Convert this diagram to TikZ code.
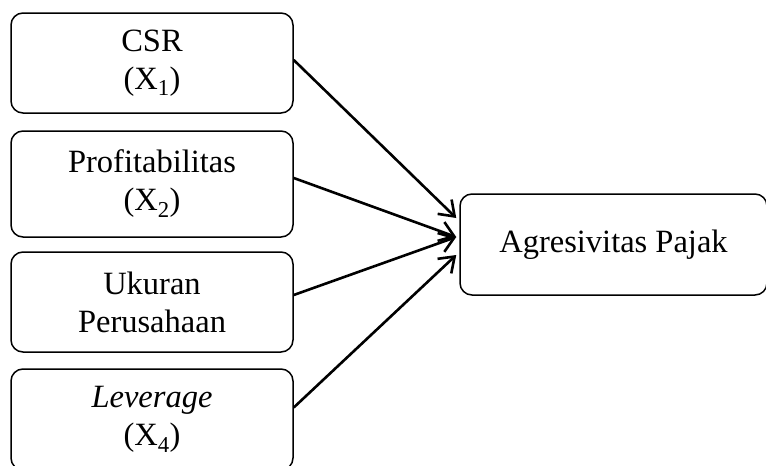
\documentclass[tikz,border=0pt]{standalone}
\usepackage{fontspec}
\setmainfont{Liberation Serif}
\usetikzlibrary{arrows.meta}
\tikzset{
  varbox/.style={draw,line width=1.5pt,rounded corners=12pt,align=center,
    minimum width=282pt,minimum height=100pt,inner sep=0pt,
    font=\fontsize{32.5}{38}\selectfont},
  panah/.style={-{Straight Barb[length=14pt,width=20pt,line width=2.6pt]},line width=2.6pt}
}
\begin{document}
\begin{tikzpicture}[x=1pt,y=-1pt]
\useasboundingbox (0,0) rectangle (766,466);

\node[varbox] (csr) at (152,63) {CSR\\(X\textsubscript{1})};
\node[varbox,minimum height=106pt] (profit) at (152,184) {Profitabilitas\\(X\textsubscript{2})};
\node[varbox] (ukuran) at (152,302) {Ukuran\\Perusahaan};
\node[varbox,minimum height=101pt] (lev) at (152,419.5) {\textit{Leverage}\\(X\textsubscript{4})};

\node[varbox,minimum width=307pt,minimum height=101pt] (pajak) at (613.5,244.5) {Agresivitas Pajak};

\draw[panah] ([yshift=3pt]csr.east)--([xshift=-3pt,yshift=26.5pt]pajak.west);
\draw[panah] ([yshift=6pt]profit.east)--([xshift=-3pt,yshift=7.5pt]pajak.west);
\draw[panah] ([yshift=7pt]ukuran.east)--([xshift=-3pt,yshift=7.5pt]pajak.west);
\draw[panah] ([yshift=12pt]lev.east)--([xshift=-3pt,yshift=-10.5pt]pajak.west);
\end{tikzpicture}
\end{document}
